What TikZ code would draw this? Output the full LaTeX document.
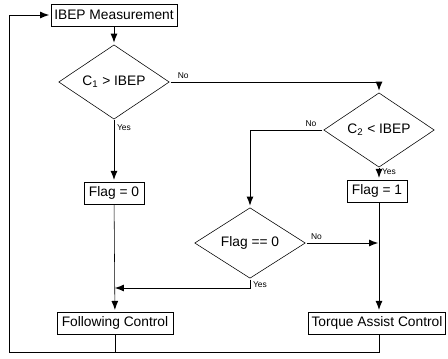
\documentclass[tikz,border=0pt]{standalone}
\usepackage{fontspec}
\setmainfont{Liberation Sans}
\usetikzlibrary{shapes.geometric, arrows.meta}

\begin{document}
\begin{tikzpicture}[x=0.025cm, y=-0.025cm]
		% settings for this chart
		\tikzset{
			>={Latex[length=7pt, width=5pt]},
			line width=1.4pt,
			every node/.style={font=\fontsize{9.8}{12}\selectfont},
			stepbox/.style={draw, rectangle, inner xsep=2pt, inner ysep=2pt, minimum height=0.56cm},
			test/.style={draw, diamond, inner sep=0pt, minimum width=2.78cm, minimum height=1.45cm},
			answer/.style={font=\fontsize{6}{7}\selectfont, inner sep=1.5pt},
		}
		\useasboundingbox (0,0) rectangle (448,358);

		% boxes
		\node[stepbox, minimum width=3.15cm] (meas) at (114,15) {IBEP Measurement};
		\node[test] (c1) at (114,82) {C\textsubscript{1} > IBEP};
		\node[stepbox, minimum width=1.5cm] (flag0) at (114,193) {Flag = 0};
		\node[stepbox, minimum width=2.9cm] (follow) at (115,323) {Following Control};
		\node[test] (c2) at (379,130) {C\textsubscript{2} < IBEP};
		\node[stepbox, minimum width=1.5cm] (flag1) at (377,191) {Flag = 1};
		\node[test] (chk) at (250,243) {Flag == 0};
		\node[stepbox, minimum width=3.4cm] (torque) at (377,323) {Torque Assist Control};

		% joints
		\coordinate (j1) at (379,243);
		\coordinate (j2) at (114,288);
		\coordinate (loop) at (9,352);

		% flow
		\draw[->] (meas) -- (c1);
		\draw[->] (c1.east) -| node[answer, above right, pos=0.01] {No} (c2.north);
		\draw[->] (c1.south) -- node[answer, below right, pos=0.02] {Yes} (flag0);
		\draw[->] (c2.west) -| node[answer, above left, pos=0.02] {No} (chk.north);
		\draw[->] (c2.south) -- node[answer, right, pos=0.3] {Yes} (c2.south |- flag1.north);
		\draw[->] (flag0) -- (follow);
		\draw[->] (flag1.south -| j1) -- (torque.north -| j1);
		\draw[->] (chk.east) -- node[answer, above right, pos=0.02] {No} (j1);
		\draw[->] (chk.south) |- node[answer, right, pos=0.3] {Yes} (j2);
		\draw (follow.south) -- (follow.south |- loop);
		\draw[->] (torque.south -| j1) |- (loop) |- (meas.west);

	\end{tikzpicture}
\end{document}
